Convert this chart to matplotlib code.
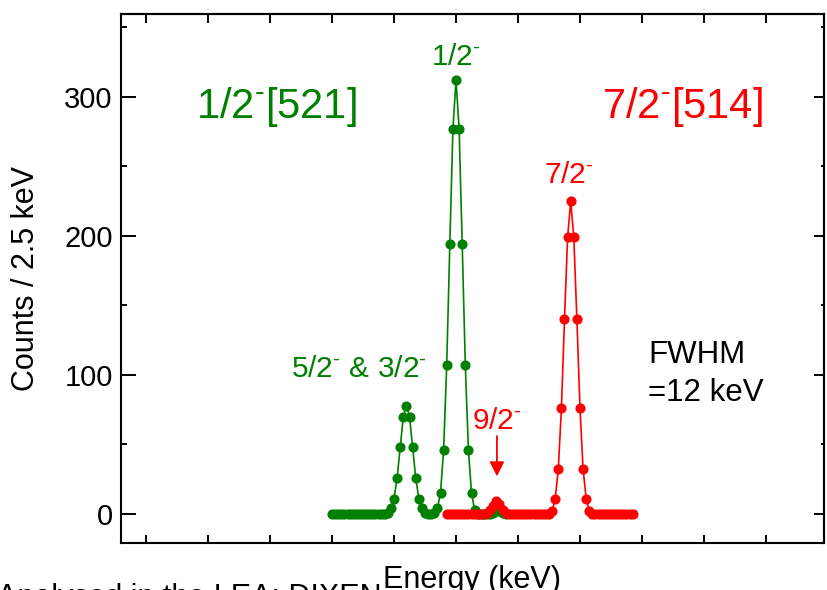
import numpy as np
import matplotlib
matplotlib.use("Agg")
import matplotlib.pyplot as plt

plt.rcParams['font.family'] = ['Liberation Sans', 'DejaVu Sans']
plt.rcParams['mathtext.fontset'] = 'custom'
plt.rcParams['mathtext.rm'] = 'Liberation Sans'
plt.rcParams['mathtext.it'] = 'Liberation Sans'
plt.rcParams['mathtext.bf'] = 'Liberation Sans'

# ---- data (counts per 2.5 keV bin) ----
bin_width = 2.5
green_start = 150.0
green_counts = [0, 0, 0, 0, 0, 0, 0, 0, 0, 0, 0, 0, 0, 0, 0, 0, 0, 0,
                1, 4, 11, 26, 48, 70, 78, 70, 48, 26, 11, 4, 1, 0, 0, 1, 4, 15,
                46, 107, 194, 277, 312, 277, 194, 107, 46, 15, 3,
                0, 0, 0, 0, 0, 1, 3, 2, 1, 0]
red_start = 242.5
red_counts = [0, 0, 0, 0, 0, 0, 0, 0, 0, 0, 0, 0, 0,
              1, 3, 6, 9, 7, 3, 1,
              0, 0, 0, 0, 0, 0, 0, 0, 0, 0, 0, 0, 0, 0,
              2, 11, 32, 76, 140, 199, 225, 199, 140, 76, 32, 11, 2,
              0, 0, 0, 0, 0, 0, 0, 0, 0, 0, 0, 0, 0, 0]
green_energy = green_start + bin_width * np.arange(len(green_counts))
red_energy = red_start + bin_width * np.arange(len(red_counts))

y_ticks = [0, 100, 200, 300]
y_minor = [50, 150, 250, 350]
x_ticks = [0, 50, 100, 150, 200, 250, 300, 350, 400, 450, 500]

GREEN = '#008000'
RED = '#ff0000'
SUP = r'$^{\text{-}}$'

fig = plt.figure(figsize=(8.28, 5.90), dpi=100)
ax = fig.add_axes([121/828, 47/590, 703/828, 529/590])

ax.plot(green_energy, green_counts, '-', color=GREEN, lw=1.2, marker='o',
        ms=6.3, mfc=GREEN, mec=GREEN, zorder=3)
ax.plot(red_energy, red_counts, '-', color=RED, lw=1.2, marker='o',
        ms=6.3, mfc=RED, mec=RED, zorder=4)

ax.set_xlim(-20.2, 546.8)
ax.set_ylim(-20.9, 359.7)

ax.set_xticks(x_ticks)
ax.set_yticks(y_ticks)
ax.set_yticks(y_minor, minor=True)
ax.tick_params(axis='x', which='both', direction='in', length=5.5, width=1.4,
               labelbottom=False, bottom=True, top=False)
ax.tick_params(axis='y', which='major', direction='in', length=11, width=1.4,
               labelsize=21, pad=6, right=False)
ax.tick_params(axis='y', which='minor', direction='in', length=4.5, width=1.4,
               right=False)
for s in ax.spines.values():
    s.set_linewidth(1.5)

# top and right tick marks
top = ax.secondary_xaxis('top')
top.set_xticks(x_ticks)
top.tick_params(direction='in', length=6.5, width=1.4, labeltop=False)
top.spines['top'].set_linewidth(1.5)
right = ax.secondary_yaxis('right')
right.set_yticks(y_ticks)
right.set_yticks(y_minor, minor=True)
right.tick_params(which='major', direction='in', length=7.5, width=1.4, labelright=False)
right.tick_params(which='minor', direction='in', length=2.5, width=1.4, labelright=False)
right.spines['right'].set_linewidth(1.5)

ax.set_xlabel('Energy (keV)', fontsize=22, labelpad=16)
ax.set_ylabel('Counts / 2.5 keV', fontsize=22, labelpad=17)

# annotations
ax.text(40.3, 285, '1/2' + SUP + '[521]', color=GREEN, fontsize=30, ha='left', va='baseline')
ax.text(497.6, 285, '7/2' + SUP + '[514]', color=RED, fontsize=30, ha='right', va='baseline')
ax.text(250, 323, '1/2' + SUP, color=GREEN, fontsize=21.5, ha='center', va='baseline')
ax.text(341, 238, '7/2' + SUP, color=RED, fontsize=21.5, ha='center', va='baseline')
ax.text(226.6, 98.3, '5/2' + SUP + ' & 3/2' + SUP, color=GREEN, fontsize=21.5,
        ha='right', va='baseline')
ax.text(283, 61, '9/2' + SUP, color=RED, fontsize=21.5, ha='center', va='baseline')
ax.annotate('', xy=(283, 27), xytext=(283, 56),
            arrowprops=dict(arrowstyle='-|>', color=RED, lw=1.3,
                            mutation_scale=22, shrinkA=0, shrinkB=0))
ax.text(404.8, 108.4, 'FWHM', color='black', fontsize=22.5, ha='left', va='baseline')
ax.text(404.8, 81.3, '=12 keV', color='black', fontsize=22.5, ha='left', va='baseline')

# partially visible caption at the bottom edge (cut off in the reference too)
fig.text(-0.004, -0.027, 'Analysed in the LEA: DIXEN', fontsize=22,
         ha='left', va='baseline', color='black')

fig.savefig('out.png', dpi=100)
